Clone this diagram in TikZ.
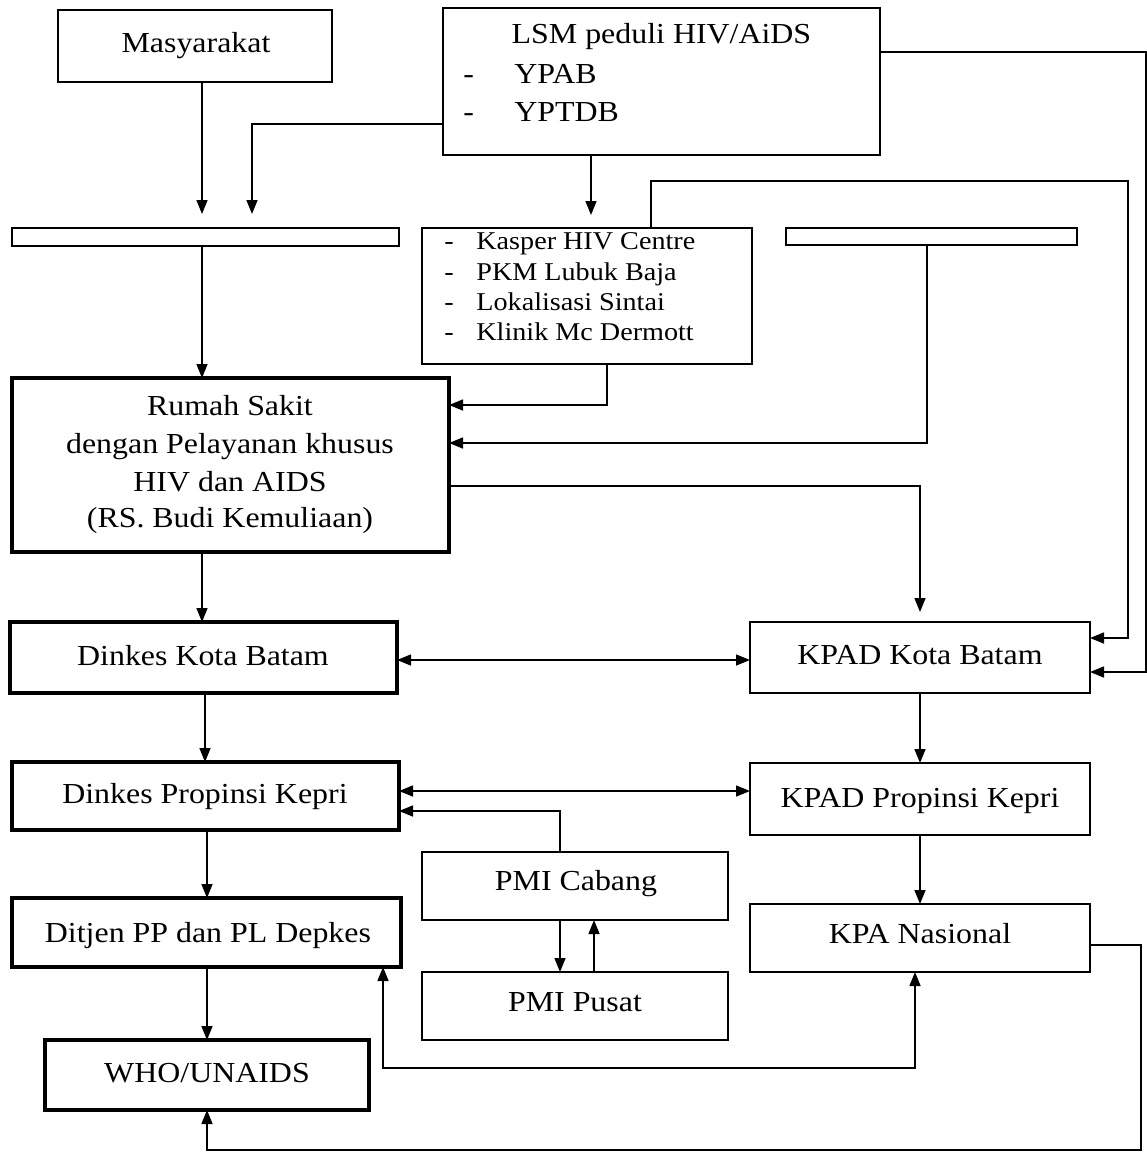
\documentclass[tikz,border=0pt]{standalone}
\usepackage{fontspec}
\setmainfont{Liberation Serif}[FakeStretch=1.1]
\usetikzlibrary{arrows.meta,calc}
\begin{document}
\begin{tikzpicture}[x=0.5pt,y=-0.5pt,
  box/.style={draw,line width=0.8pt,inner sep=0pt,outer sep=0pt},
  tbox/.style={box,line width=1.6pt},
  lbl/.style={anchor=base,inner sep=0pt,font=\fontsize{14.5}{18}\selectfont},
  slbl/.style={anchor=base west,inner sep=0pt,font=\fontsize{12.8}{15}\selectfont},
  conn/.style={line width=0.75pt,-{Triangle[length=7pt,width=5.5pt]}},
  dconn/.style={line width=0.75pt,{Triangle[length=7pt,width=5.5pt]}-{Triangle[length=7pt,width=5.5pt]}}]
\fill[white] (0,0) rectangle (1147,1153);
\useasboundingbox (0,0) rectangle (1147,1153);

% ---------- boxes ----------
\node[box,minimum width=137pt,minimum height=36pt] (mas) at (195,46) {};
\node[lbl] (masT) at (196,52) {Masyarakat};

\node[box,minimum width=218.5pt,minimum height=73.5pt] (lsm) at (661.5,81.5) {};
\node[lbl] (lsmT) at (661.5,43) {LSM peduli HIV/AiDS};
\node[lbl,anchor=base west] (lsmD1) at (463,83) {-};
\node[lbl,anchor=base west] (lsmI1) at (514,83) {YPAB};
\node[lbl,anchor=base west] (lsmD2) at (463,121) {-};
\node[lbl,anchor=base west] (lsmI2) at (514,121) {YPTDB};

\node[box,minimum width=193.5pt,minimum height=9pt] (lbar) at (205.5,237) {};
\node[box,minimum width=145.5pt,minimum height=8.5pt] (rbar) at (931.5,236.5) {};

\node[box,minimum width=165pt,minimum height=68pt] (kas) at (587,296) {};
\node[slbl] (kasD1) at (444,249) {-};
\node[slbl] (kas1) at (476,249) {Kasper HIV Centre};
\node[slbl] (kasD2) at (444,280) {-};
\node[slbl] (kas2) at (476,280) {PKM Lubuk Baja};
\node[slbl] (kasD3) at (444,310) {-};
\node[slbl] (kas3) at (476,310) {Lokalisasi Sintai};
\node[slbl] (kasD4) at (444,340) {-};
\node[slbl] (kas4) at (476,340) {Klinik Mc Dermott};

\node[tbox,minimum width=218.5pt,minimum height=87pt] (rs) at (230.5,465) {};
\node[lbl] (rs1) at (230,415) {Rumah Sakit};
\node[lbl] (rs2) at (230,453) {dengan Pelayanan khusus};
\node[lbl] (rs3) at (230,491) {HIV dan AIDS};
\node[lbl] (rs4) at (230,527) {(RS. Budi Kemuliaan)};

\node[tbox,minimum width=193.5pt,minimum height=35.5pt] (dkota) at (203.5,657.5) {};
\node[lbl] (dkotaT) at (203,665) {Dinkes Kota Batam};
\node[box,minimum width=170pt,minimum height=35.5pt] (kpadkota) at (920,657.5) {};
\node[lbl] (kpadkotaT) at (920,664) {KPAD Kota Batam};

\node[tbox,minimum width=193.5pt,minimum height=34pt] (dprop) at (205.5,796) {};
\node[lbl] (dpropT) at (205,803) {Dinkes Propinsi Kepri};
\node[box,minimum width=170pt,minimum height=36pt] (kpadprop) at (920,799) {};
\node[lbl] (kpadpropT) at (920,807) {KPAD Propinsi Kepri};

\node[box,minimum width=153pt,minimum height=34pt] (pmic) at (575,886) {};
\node[lbl] (pmicT) at (576,890) {PMI Cabang};
\node[box,minimum width=153pt,minimum height=34pt] (pmip) at (575,1006) {};
\node[lbl] (pmipT) at (575,1011) {PMI Pusat};

\node[tbox,minimum width=194.5pt,minimum height=34.5pt] (ditjen) at (206.5,932.5) {};
\node[lbl] (ditjenT) at (208,942) {Ditjen PP dan PL Depkes};
\node[box,minimum width=170pt,minimum height=34pt] (kpan) at (920,938) {};
\node[lbl] (kpanT) at (920,943) {KPA Nasional};

\node[tbox,minimum width=162pt,minimum height=35pt] (who) at (207,1075) {};
\node[lbl] (whoT) at (207,1082) {WHO/UNAIDS};

% ---------- helper coordinates ----------
\coordinate (a1) at (202,214);
\coordinate (a2t) at (252,124);
\coordinate (a2) at (252,214);
\coordinate (a3) at (591,215);
\coordinate (r1t) at (1146,52);
\coordinate (r1b) at (1146,672);
\coordinate (r2a) at (651,181);
\coordinate (r2b) at (1128,181);
\coordinate (r2c) at (1128,638);
\coordinate (b1) at (927,443);
\coordinate (b2) at (607,405);
\coordinate (rsout) at (920,486);
\coordinate (h1) at (0,660);
\coordinate (h2) at (0,791);
\coordinate (x205) at (205,0);
\coordinate (x207) at (207,0);
\coordinate (x594) at (594,0);
\coordinate (p1) at (560,811);
\coordinate (q1) at (383,1068);
\coordinate (q2) at (915,1068);
\coordinate (w1) at (1141,945);
\coordinate (w2) at (1141,1150);
\coordinate (w3) at (207,1150);

% ---------- connectors ----------
\draw[conn] (mas.south -| a1) -- (a1);
\draw[conn] (lsm.west |- a2t) -- (a2t) -- (a2);
\draw[conn] (lsm.south -| a3) -- (a3);
\draw[conn] (lsm.east |- r1t) -- (r1t) -- (r1b) -- (kpadkota.east |- r1b);
\draw[conn] (kas.north -| r2a) -- (r2a) -- (r2b) -- (r2c) -- (kpadkota.east |- r2c);
\draw[conn] (rbar.south -| b1) -- (b1) -- (rs.east |- b1);
\draw[conn] (kas.south -| b2) -- (b2) -- (rs.east |- b2);
\draw[conn] (lbar.south -| a1) -- (rs.north -| a1);
\draw[conn,shorten >=5pt] (rs.east |- rsout) -- (rsout) -- (kpadkota.north -| rsout);
\draw[conn] (rs.south -| a1) -- (dkota.north -| a1);
\draw[dconn] (dkota.east |- h1) -- (kpadkota.west |- h1);
\draw[conn] (dkota.south -| x205) -- (dprop.north -| x205);
\draw[conn] (kpadkota.south) -- (kpadprop.north);
\draw[dconn] (dprop.east |- h2) -- (kpadprop.west |- h2);
\draw[conn] (pmic.north -| p1) -- (p1) -- (dprop.east |- p1);
\draw[conn] (pmic.south -| p1) -- (pmip.north -| p1);
\draw[conn] (pmip.north -| x594) -- (pmic.south -| x594);
\draw[conn] (dprop.south -| x207) -- (ditjen.north -| x207);
\draw[conn] (kpadprop.south) -- (kpan.north);
\draw[conn] (ditjen.south -| x207) -- (who.north -| x207);
\draw[dconn] (ditjen.south -| q1) -- (q1) -- (q2) -- (kpan.south -| q2);
\draw[conn] (kpan.east |- w1) -- (w1) -- (w2) -- (w3) -- (who.south -| w3);
\end{tikzpicture}
\end{document}
